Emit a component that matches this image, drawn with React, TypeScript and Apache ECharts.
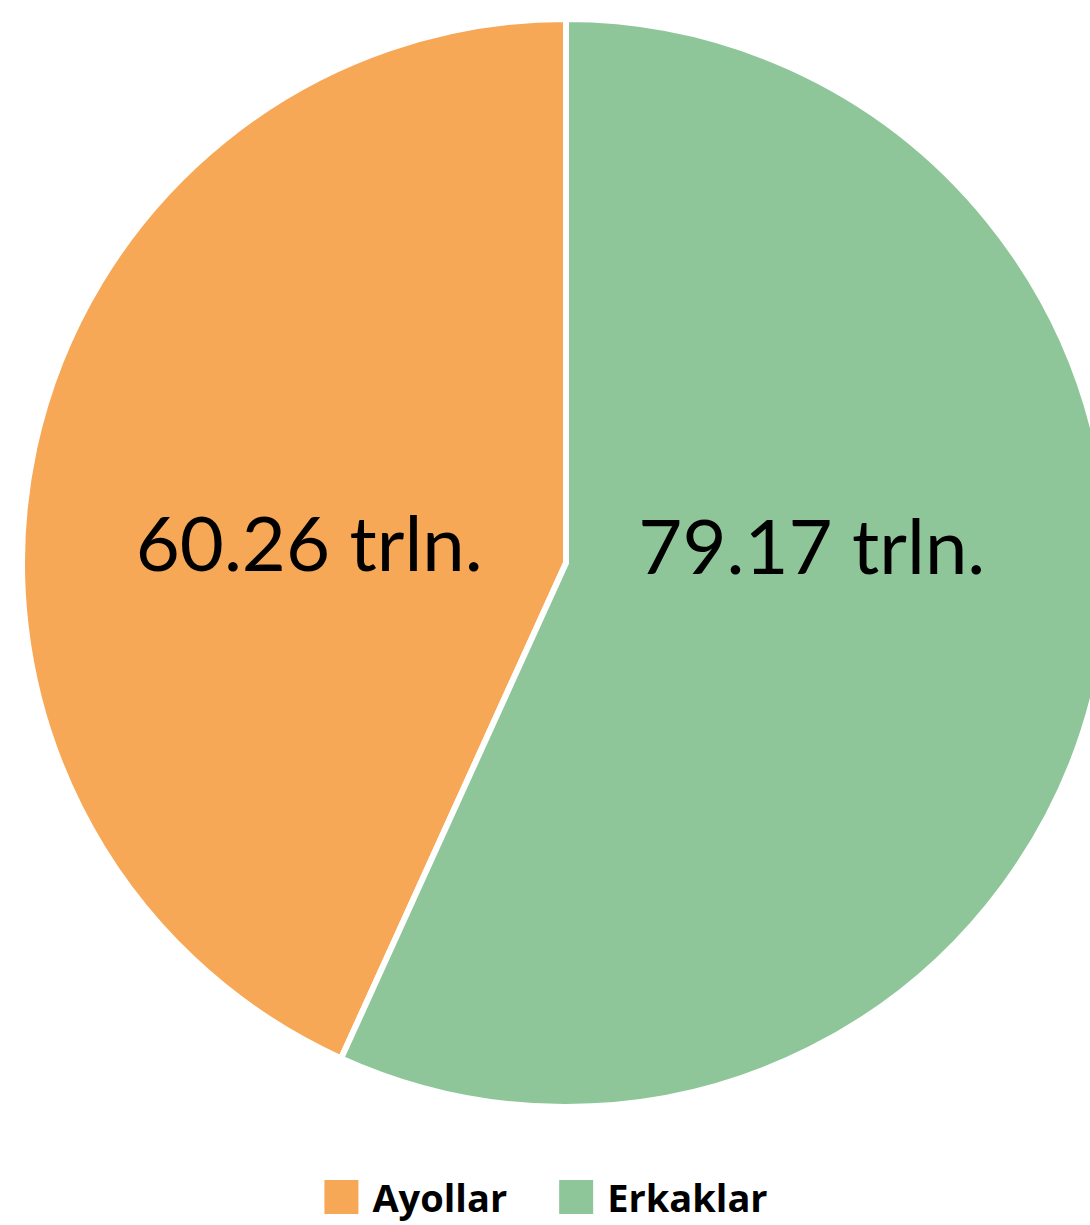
import React, { useEffect, useRef } from "react";
import * as echarts from "echarts";

const categories = ["Ayollar", "Erkaklar"];
const values = [60.26, 79.17];
const labels = ["60.26 trln.", "79.17 trln."];
const colors = ["#F7A856", "#8FC699"];
const labelOffsets = [[12, 37], [-23, -77]];

export default function App() {
  const ref = useRef<HTMLDivElement>(null);
  useEffect(() => {
    document.body.style.margin = "0";
    const chart = echarts.init(ref.current!, null, { renderer: "svg" });
    const data = categories.map((name, i) => ({
      name,
      value: values[i],
      itemStyle: { color: colors[i] },
      label: { formatter: labels[i], offset: labelOffsets[i] },
    }));
    chart.setOption({
      animation: false,
      legend: {
        data: categories,
        top: 1172,
        left: "center",
        icon: "rect",
        itemWidth: 36,
        itemHeight: 36,
        itemGap: 50,
        textStyle: {
          fontFamily: "Open Sans",
          fontWeight: "bold",
          fontSize: 38,
          lineHeight: 40,
          color: "#000",
          padding: [0, 0, 0, 8],
        },
      },
      series: [
        {
          type: "pie",
          center: [566, 563],
          radius: [0, 544],
          startAngle: 90,
          clockwise: false,
          avoidLabelOverlap: false,
          itemStyle: { borderColor: "#fff", borderWidth: 6 },
          label: {
            show: true,
            position: "inside",
            fontFamily: "Lato",
            fontSize: 76,
            color: "#000",
          },
          labelLine: { show: false },
          emphasis: { disabled: true },
          data,
        },
      ],
    });
    return () => chart.dispose();
  }, []);
  return <div ref={ref} style={{ width: 1090, height: 1225 }} />;
}
